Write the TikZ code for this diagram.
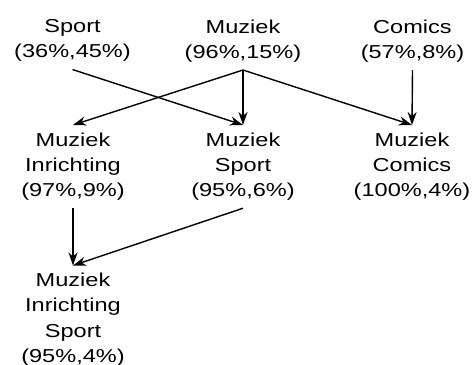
\documentclass[tikz,border=0pt]{standalone}
\usepackage{fontspec}
\setmainfont{Liberation Sans}
\usetikzlibrary{arrows.meta}
\tikzset{
    itemset/.style={anchor=north, align=center, inner sep=7pt, xscale=1.26,
        font=\fontsize{18.7}{25.2}\selectfont},
}
\begin{document}
\begin{tikzpicture}[x=1pt, y=-1pt, >={Stealth[length=13pt,width=9pt,inset=4pt]}, line width=1.4pt]
    \useasboundingbox (0,0) rectangle (476,364);
    % enkele items
    \node[itemset] (sp) at (72.5,12) {Sport\\(36\%,45\%)};
    \node[itemset] (mu) at (243,12) {Muziek\\(96\%,15\%)};
    \node[itemset] (co) at (412.5,12) {Comics\\(57\%,8\%)};
    % paren
    \node[itemset] (mi) at (73,125) {Muziek\\Inrichting\\(97\%,9\%)};
    \node[itemset] (ms) at (243,125) {Muziek\\Sport\\(95\%,6\%)};
    \node[itemset] (mc) at (412,125) {Muziek\\Comics\\(100\%,4\%)};
    % drietal
    \node[itemset] (mis) at (73,265.5) {Muziek\\Inrichting\\Sport\\(95\%,4\%)};

    \foreach \a/\b in {sp/ms, mu/mi, mu/ms, mu/mc, co/mc, mi/mis, ms/mis}
    {
        \draw[->] (\a.south) -- (\b.north);
    }
\end{tikzpicture}
\end{document}
